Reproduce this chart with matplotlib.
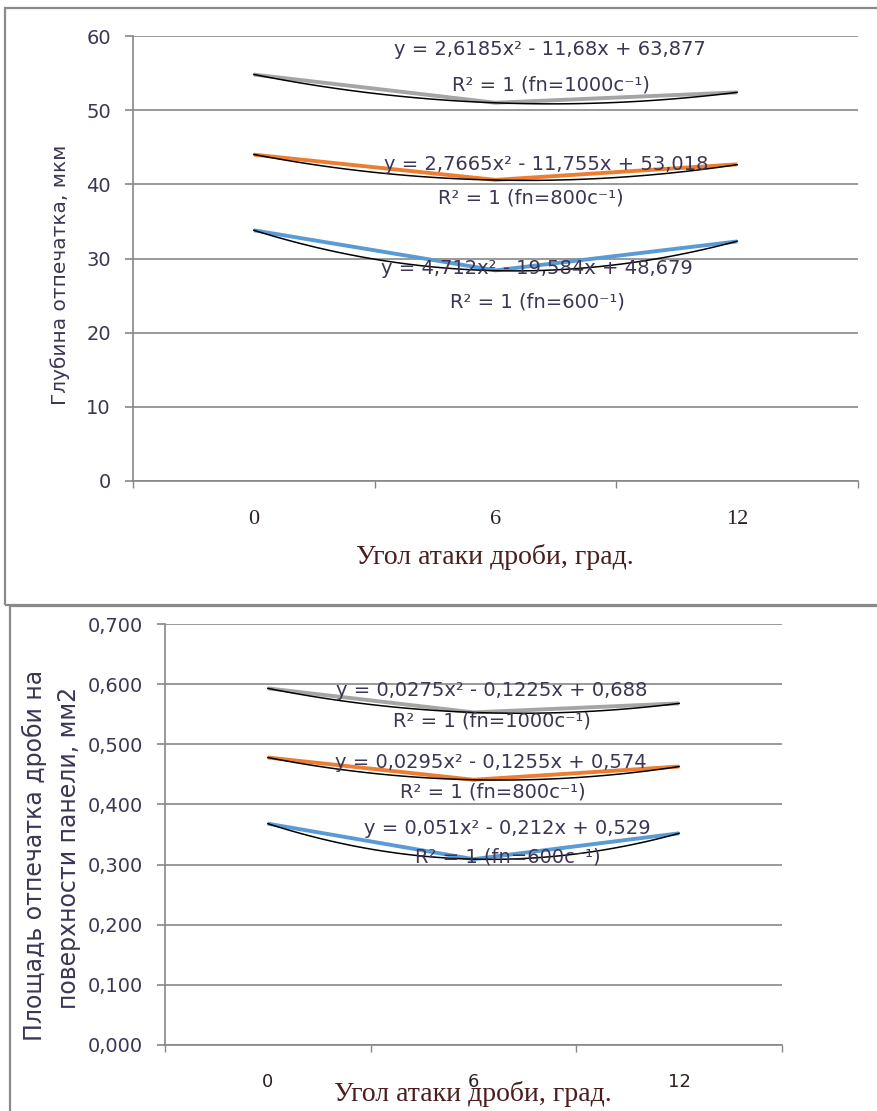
import numpy as np
import matplotlib.pyplot as plt
from matplotlib.patches import Rectangle
from matplotlib.ticker import FixedLocator

W, H = 877, 1111

# categories on the x axis (angle of attack, degrees)
angles = ["0", "6", "12"]
cat_x = np.array([1, 2, 3])

# depth of the dent, um
depth_1000 = [54.8, 51.0, 52.4]
depth_800 = [44.0, 40.6, 42.7]
depth_600 = [33.8, 28.4, 32.3]

# area of the dent, mm2
area_1000 = [0.593, 0.553, 0.568]
area_800 = [0.478, 0.441, 0.463]
area_600 = [0.368, 0.309, 0.352]

# polynomial trendline coefficients (a, b, c) for y = a x^2 + b x + c
depth_fit_1000 = [2.6185, -11.68, 63.877]
depth_fit_800 = [2.7665, -11.755, 53.018]
depth_fit_600 = [4.712, -19.584, 48.679]
area_fit_1000 = [0.0275, -0.1225, 0.688]
area_fit_800 = [0.0295, -0.1255, 0.574]
area_fit_600 = [0.051, -0.212, 0.529]

fn_labels_depth = ["1000c⁻¹", "800c⁻¹", "600⁻¹"]
fn_labels_area = ["1000c⁻¹", "800c⁻¹", "600c⁻¹"]

COLORS = ["#a5a5a5", "#ed7d31", "#5b9bd5"]
GRID = "#878787"
TXT = "#3d3553"
SANS = "DejaVu Sans"
SERIF = "Liberation Serif"


def fx(px):
    return px / W


def fy(py):
    return 1 - py / H


def num(v):
    return str(v).replace(".", ",")


def eq_text(coef):
    a, b, c = coef
    return f"y = {num(a)}x² - {num(-b)}x + {num(c)}"


def px_to_data(ax, px, py):
    # figure pixel (top-left origin) -> data coords of ax
    inv = ax.transData.inverted()
    return inv.transform((px, H - py))


def setup_axes(ax, ylim, yticks, yfmt, xlab_font, xlab_size, xpad):
    ax.set_xlim(0.5, 3.5)
    ax.set_ylim(*ylim)
    ax.set_yticks(yticks)
    ax.set_yticklabels([yfmt(v) for v in yticks], fontsize=14,
                       family=SANS, color=TXT)
    ax.set_xticks(cat_x)
    ax.set_xticklabels(angles, fontsize=xlab_size, family=xlab_font, color="#2b2020")
    ax.xaxis.set_minor_locator(FixedLocator([0.5, 1.5, 2.5, 3.5]))
    ax.tick_params(axis="x", which="major", length=0, pad=xpad)
    ax.tick_params(axis="x", which="minor", length=5, width=1, color=GRID, direction="out")
    ax.tick_params(axis="y", length=6, width=1.2, color=GRID, pad=10)
    ax.grid(axis="y", color=GRID, lw=1.2)
    ax.set_axisbelow(True)
    for s in ("top", "right"):
        ax.spines[s].set_visible(False)
    for s in ("left", "bottom"):
        ax.spines[s].set_color(GRID)
        ax.spines[s].set_linewidth(1.2)


def draw_series(ax, series, fits):
    xs = np.linspace(1, 3, 100)
    for vals, coef, col in zip(series, fits, COLORS):
        ax.plot(cat_x, vals, color=col, lw=2.8, solid_capstyle="butt", zorder=3)
        ax.plot(xs, np.polyval(coef, xs), color="black", lw=1.1, zorder=4)


fig = plt.figure(figsize=(W / 100, H / 100), dpi=100)

# panel frames
fig.patches.append(Rectangle((fx(5), fy(605)), 1.2, fy(8) - fy(605),
                             transform=fig.transFigure, fill=False,
                             ec="#8a8a8a", lw=1.6))
fig.patches.append(Rectangle((fx(10), fy(1125)), 1.2, fy(606) - fy(1125),
                             transform=fig.transFigure, fill=False,
                             ec="#8a8a8a", lw=1.6))

# ---- depth chart ----
ax1 = fig.add_axes([fx(133), fy(481), fx(858) - fx(133), fy(36) - fy(481)])
setup_axes(ax1, (0, 60), [0, 10, 20, 30, 40, 50, 60], lambda v: f"{v:d}",
           SERIF, 16, 21)
draw_series(ax1, [depth_1000, depth_800, depth_600],
            [depth_fit_1000, depth_fit_800, depth_fit_600])

depth_pos = [((550, 50), (551, 85)), ((546, 165), (531, 198)), ((537, 269), (537, 302))]
for coef, fn, (p_eq, p_r2) in zip([depth_fit_1000, depth_fit_800, depth_fit_600],
                                   fn_labels_depth, depth_pos):
    ax1.text(*px_to_data(ax1, *p_eq), eq_text(coef), ha="center", va="center",
             fontsize=14, family=SANS, color=TXT, zorder=5)
    ax1.text(*px_to_data(ax1, *p_r2), f"R² = 1 (fn={fn})", ha="center", va="center",
             fontsize=14, family=SANS, color=TXT, zorder=5)

fig.text(fx(495), fy(557), "Угол атаки дроби, град.", ha="center", va="center",
         fontsize=20, family=SERIF, color="#4a1c1c")
fig.text(fx(60), fy(275), "Глубина отпечатка, мкм", ha="center", va="center",
         rotation=90, fontsize=14.5, family=SANS, color=TXT)

# ---- area chart ----
ax2 = fig.add_axes([fx(165), fy(1045), fx(782) - fx(165), fy(624) - fy(1045)])
area_ticks = [0.0, 0.1, 0.2, 0.3, 0.4, 0.5, 0.6, 0.7]
setup_axes(ax2, (0, 0.7), area_ticks, lambda v: f"{v:.3f}".replace(".", ","),
           SANS, 13, 20)
draw_series(ax2, [area_1000, area_800, area_600],
            [area_fit_1000, area_fit_800, area_fit_600])

area_pos = [((492, 691), (492, 721)), ((491, 763), (493, 792)), ((507, 828), (508, 857))]
for coef, fn, (p_eq, p_r2) in zip([area_fit_1000, area_fit_800, area_fit_600],
                                   fn_labels_area, area_pos):
    ax2.text(*px_to_data(ax2, *p_eq), eq_text(coef), ha="center", va="center",
             fontsize=14, family=SANS, color=TXT, zorder=5)
    ax2.text(*px_to_data(ax2, *p_r2), f"R² = 1 (fn={fn})", ha="center", va="center",
             fontsize=14, family=SANS, color=TXT, zorder=5)

fig.text(fx(473), fy(1094), "Угол атаки дроби, град.", ha="center", va="center",
         fontsize=20, family=SERIF, color="#4a1c1c")
fig.text(fx(34), fy(855), "Площадь отпечатка дроби на", ha="center", va="center",
         rotation=90, fontsize=17, family=SANS, color=TXT)
fig.text(fx(69), fy(848), "поверхности панели, мм2", ha="center", va="center",
         rotation=90, fontsize=17, family=SANS, color=TXT)

fig.savefig("out.png", dpi=100)
